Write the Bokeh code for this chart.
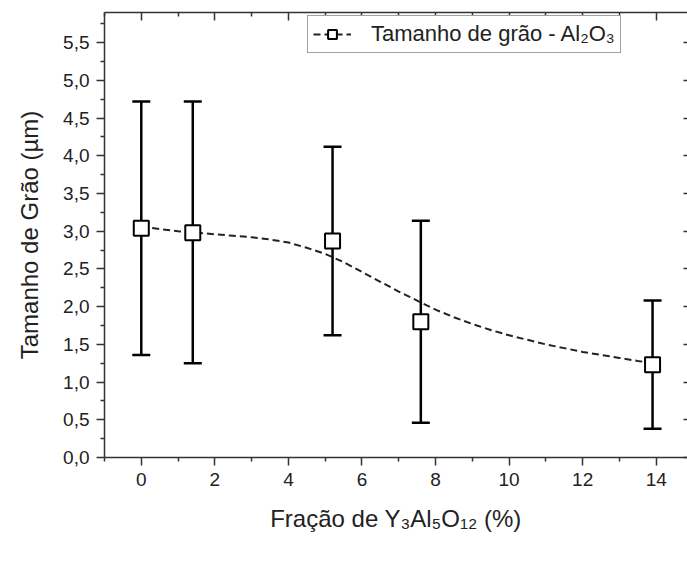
from bokeh.plotting import figure
from bokeh.models import (ColumnDataSource, Whisker, TeeHead, FixedTicker, LinearAxis,
                          Legend, LegendItem, Range1d)
from bokeh.embed import file_html
from bokeh.resources import INLINE

# ---- data ----
frac = [0.0, 1.4, 5.2, 7.6, 13.9]
grain = [3.04, 2.98, 2.87, 1.80, 1.23]
err_upper = [4.72, 4.72, 4.12, 3.14, 2.08]
err_lower = [1.36, 1.25, 1.62, 0.46, 0.38]

curve_x = [0.0, 0.5, 1.0, 1.5, 2.0, 2.5, 3.0, 3.5, 4.0, 4.5, 5.0, 5.5, 6.0, 6.5, 7.0,
           7.5, 8.0, 8.5, 9.0, 9.5, 10.0, 10.5, 11.0, 11.5, 12.0, 12.5, 13.0, 13.5, 13.9]
curve_y = [3.06, 3.03, 3.00, 2.98, 2.96, 2.94, 2.92, 2.89, 2.85, 2.78, 2.70, 2.59, 2.46,
           2.33, 2.20, 2.08, 1.96, 1.86, 1.77, 1.69, 1.62, 1.56, 1.50, 1.45, 1.40, 1.36,
           1.32, 1.28, 1.25]

x_ticks = [0, 2, 4, 6, 8, 10, 12, 14]
x_minor = [-1, 1, 3, 5, 7, 9, 11, 13, 15]
y_ticks = [0.0, 0.5, 1.0, 1.5, 2.0, 2.5, 3.0, 3.5, 4.0, 4.5, 5.0, 5.5]
y_labels = ["0,0", "0,5", "1,0", "1,5", "2,0", "2,5", "3,0", "3,5", "4,0", "4,5", "5,0", "5,5"]
y_minor = [0.25, 0.75, 1.25, 1.75, 2.25, 2.75, 3.25, 3.75, 4.25, 4.75, 5.25, 5.75]

x_title = "Fração de Y₃Al₅O₁₂ (%)"
y_title = "Tamanho de Grão (µm)"
series_label = "Tamanho de grão - Al₂O₃"

FONT = "Liberation Sans"
AX = "#333333"

src = ColumnDataSource(dict(x=frac, y=grain, upper=err_upper, lower=err_lower))

p = figure(width=687, height=564, x_range=Range1d(-1, 14.85), y_range=Range1d(0, 5.9),
           output_backend="svg", toolbar_location=None,
           min_border_left=104, min_border_right=0, min_border_top=12, min_border_bottom=107,
           background_fill_color="white", border_fill_color="white",
           outline_line_color=None)
p.grid.visible = False

for ax in (p.xaxis[0], p.yaxis[0]):
    ax.axis_line_color = AX
    ax.axis_line_width = 1.5
    ax.major_tick_line_color = AX
    ax.minor_tick_line_color = AX
    ax.major_tick_line_width = 1.5
    ax.minor_tick_line_width = 1.5
    ax.major_tick_in = 0
    ax.major_tick_out = 8
    ax.minor_tick_in = 0
    ax.minor_tick_out = 4
    ax.major_label_text_font = FONT
    ax.major_label_text_font_size = "19px"
    ax.major_label_text_color = "#222222"
    ax.axis_label_text_font = FONT
    ax.axis_label_text_font_size = "24px"
    ax.axis_label_text_font_style = "normal"
    ax.axis_label_text_color = "#222222"

p.xaxis[0].ticker = FixedTicker(ticks=x_ticks, minor_ticks=x_minor)
p.xaxis[0].axis_label = x_title
p.xaxis[0].major_label_standoff = 7
p.xaxis[0].axis_label_standoff = 16

p.yaxis[0].ticker = FixedTicker(ticks=y_ticks, minor_ticks=y_minor)
p.yaxis[0].major_label_overrides = dict(zip(y_ticks, y_labels))
p.yaxis[0].axis_label = y_title
p.yaxis[0].major_label_standoff = 7
p.yaxis[0].axis_label_standoff = 17

top = LinearAxis(ticker=FixedTicker(ticks=x_ticks, minor_ticks=x_minor),
                 axis_line_color=AX, axis_line_width=1.5,
                 major_tick_line_color=AX, minor_tick_line_color=AX,
                 major_tick_line_width=1.5, minor_tick_line_width=1.5,
                 major_tick_in=8, major_tick_out=0, minor_tick_in=4, minor_tick_out=0,
                 major_label_text_font_size="0px", major_label_standoff=0,
                 major_label_overrides={t: "" for t in x_ticks})
p.add_layout(top, "above")

right = LinearAxis(ticker=FixedTicker(ticks=y_ticks, minor_ticks=[]),
                   axis_line_color=None,
                   major_tick_line_color=AX, major_tick_line_width=1.5,
                   major_tick_in=4, major_tick_out=0, minor_tick_in=0, minor_tick_out=0,
                   major_label_text_font_size="0px", major_label_standoff=0,
                   major_label_overrides={t: "" for t in y_ticks})
p.add_layout(right, "right")

line_r = p.line(curve_x, curve_y, line_dash="7 4", line_width=2, line_color="#222222")

whisk = Whisker(source=src, base="x", upper="upper", lower="lower",
                line_color="black", line_width=2.5,
                upper_head=TeeHead(size=18, line_color="black", line_width=2.5),
                lower_head=TeeHead(size=18, line_color="black", line_width=2.5))
p.add_layout(whisk)

sq = p.scatter("x", "y", source=src, marker="square", size=15,
               fill_color="white", line_color="black", line_width=2)

legend = Legend(items=[LegendItem(label=series_label, renderers=[line_r, sq])],
                location=(203, 404), padding=5, spacing=0, margin=0,
                glyph_width=38, glyph_height=22, label_standoff=20, label_height=26,
                label_text_font=FONT, label_text_font_size="22px", label_text_color="#222222",
                border_line_color="#444444", border_line_width=1,
                background_fill_color="white", background_fill_alpha=1.0)
p.add_layout(legend)

open("out.html", "w").write(file_html(p, INLINE))
